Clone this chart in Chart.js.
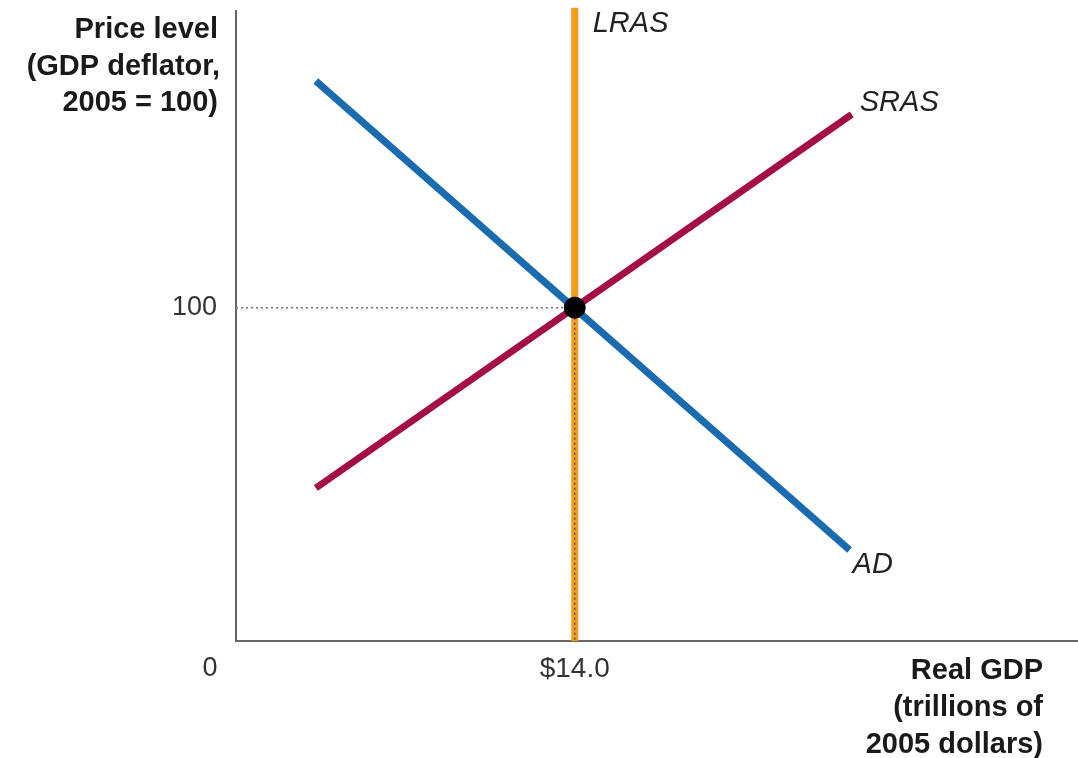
<!DOCTYPE html>
<html>
<head>
<meta charset="utf-8">
<script src="https://cdn.jsdelivr.net/npm/chart.js@4"></script>
<style>
  html, body { margin: 0; padding: 0; background: #ffffff; }
  #wrap { width: 1078px; height: 758px; }
</style>
</head>
<body>
<div id="wrap"><canvas id="c" width="1078" height="758"></canvas></div>
<script>
// ---- data ----
const adX = [3.3, 25.36];
const adY = [168.0, 27.3];
const srasX = [3.3, 25.45];
const srasY = [45.9, 158.0];
const lrasX = [14, 14];
const lrasY = [0, 190];
const eqX = [14];
const eqY = [100];
const xTicks = [14];
const xTickLabels = ['$14.0'];
const yTicks = [100];
const yTickLabels = ['100'];
const seriesLabels = ['LRAS', 'SRAS', 'AD'];
const xRange = [0, 34.8];
const yRange = [0, 189];

const FONT = '"Liberation Sans", Arial, Helvetica, sans-serif';
const pts = (xs, ys) => xs.map((x, i) => ({ x: x, y: ys[i] }));
const noPad = (s) => { s.paddingTop = 0; s.paddingBottom = 0; s.paddingLeft = 0; s.paddingRight = 0; };

const textPlugin = {
  id: 'texts',
  afterDraw(chart) {
    const ctx = chart.ctx;
    const xs = chart.scales.x, ys = chart.scales.y;
    ctx.save();
    ctx.fillStyle = '#1a1a1a';
    // axis titles
    ctx.font = 'bold 29px ' + FONT;
    ctx.textAlign = 'right';
    ctx.textBaseline = 'alphabetic';
    ['Price level', '(GDP deflator,', '2005 = 100)'].forEach((t, i) => {
      ctx.fillText(t, 218 + (i === 1 ? 2 : 0), 38 + i * 36.5);
    });
    ['Real GDP', '(trillions of', '2005 dollars)'].forEach((t, i) => {
      ctx.fillText(t, 1043, 679 + i * 37);
    });
    // origin label
    ctx.font = '27px ' + FONT;
    ctx.fillStyle = '#333';
    ctx.textAlign = 'center';
    ctx.textBaseline = 'middle';
    ctx.fillText('0', 210, 669);
    // series labels
    ctx.font = 'italic 29px ' + FONT;
    ctx.fillStyle = '#222';
    ctx.textAlign = 'left';
    ctx.textBaseline = 'middle';
    const anchors = [
      [xs.getPixelForValue(lrasX[1]) + 18, ys.getPixelForValue(lrasY[1]) + 16],
      [xs.getPixelForValue(srasX[1]) + 8, ys.getPixelForValue(srasY[1]) - 11],
      [xs.getPixelForValue(adX[1]) + 3, ys.getPixelForValue(adY[1]) + 15]
    ];
    seriesLabels.forEach((t, i) => ctx.fillText(t, anchors[i][0], anchors[i][1]));
    ctx.restore();
  }
};

new Chart(document.getElementById('c'), {
  type: 'scatter',
  data: {
    datasets: [
      { label: 'eq', data: pts(eqX, eqY), pointRadius: 10.5, pointHoverRadius: 10.5,
        backgroundColor: '#000', borderColor: '#000', order: 0 },
      { label: 'vdot', data: [{ x: eqX[0], y: eqY[0] }, { x: eqX[0], y: 0 }], showLine: true,
        borderColor: '#555', borderWidth: 1.5, borderDash: [2, 3], pointRadius: 0, order: 1 },
      { label: 'LRAS', data: pts(lrasX, lrasY), showLine: true, borderColor: '#f89a1c',
        borderWidth: 7, pointRadius: 0, borderCapStyle: 'butt', order: 2 },
      { label: 'AD', data: pts(adX, adY), showLine: true, borderColor: '#1b6bb0',
        borderWidth: 7, pointRadius: 0, borderCapStyle: 'butt', order: 3 },
      { label: 'SRAS', data: pts(srasX, srasY), showLine: true, borderColor: '#a50d47',
        borderWidth: 7, pointRadius: 0, borderCapStyle: 'butt', order: 4 },
      { label: 'hdot', data: [{ x: 0, y: eqY[0] }, { x: eqX[0], y: eqY[0] }], showLine: true,
        borderColor: '#777', borderWidth: 1.5, borderDash: [2, 3], pointRadius: 0, order: 5 }
    ]
  },
  options: {
    responsive: false,
    devicePixelRatio: 1,
    animation: false,
    clip: false,
    layout: { autoPadding: false, padding: { top: 11, right: 0, left: 0, bottom: 0 } },
    plugins: { legend: { display: false }, tooltip: { enabled: false } },
    scales: {
      x: {
        type: 'linear', min: xRange[0], max: xRange[1],
        afterFit(s) { s.height = 117; noPad(s); },
        afterBuildTicks(s) { s.ticks = xTicks.map(v => ({ value: v })); },
        ticks: {
          callback: (v) => xTickLabels[xTicks.indexOf(v)] ?? '',
          font: { size: 28, family: FONT }, color: '#333', padding: 11, maxRotation: 0, autoSkip: false
        },
        grid: { color: 'transparent', drawTicks: false },
        border: { display: true, color: '#666', width: 2 }
      },
      y: {
        type: 'linear', min: yRange[0], max: yRange[1],
        afterFit(s) { s.width = 236; noPad(s); },
        afterBuildTicks(s) { s.ticks = yTicks.map(v => ({ value: v })); },
        ticks: {
          callback: (v) => yTickLabels[yTicks.indexOf(v)] ?? '',
          font: { size: 27, family: FONT }, color: '#333', padding: 19, autoSkip: false
        },
        grid: { color: 'transparent', drawTicks: false },
        border: { display: true, color: '#666', width: 2 }
      }
    }
  },
  plugins: [textPlugin]
});
</script>
</body>
</html>
